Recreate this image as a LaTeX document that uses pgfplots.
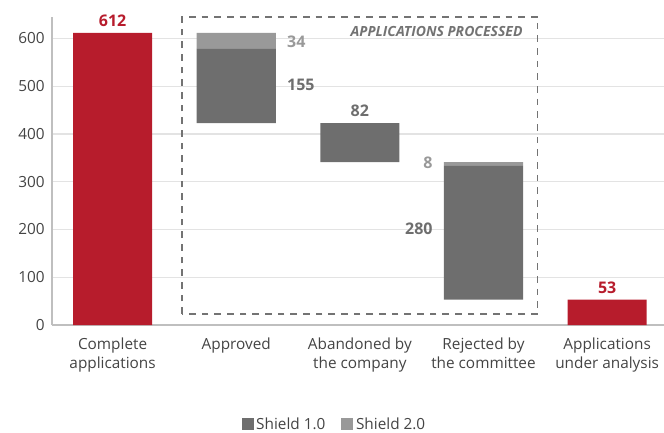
\documentclass[border=0pt]{standalone}
\usepackage{pgfplots}
\pgfplotsset{compat=1.18}
\usepackage{fontspec}
\setmainfont{Open Sans}
\definecolor{shieldred}{HTML}{B71C2C}
\definecolor{darkg}{HTML}{6E6E6E}
\definecolor{lightg}{HTML}{999999}
\definecolor{txt}{HTML}{444444}
\definecolor{gridg}{HTML}{E3E3E3}
\tikzset{vlab/.style={font=\fontsize{12}{14}\selectfont\bfseries}}
\begin{document}
\begin{tikzpicture}
\useasboundingbox (-39pt,-80.25pt) rectangle (459pt,243.75pt);
\begin{axis}[
  at={(0,0)}, anchor=south west,
  width=459pt, height=231pt,
  scale only axis,
  ybar stacked,
  bar width=0.64,
  xmin=-0.49, xmax=4.46,
  ymin=0, ymax=645,
  xtick={0,1,2,3,4},
  xticklabels={Complete\\applications, Approved, Abandoned by\\the company, Rejected by\\the committee, Applications\\under analysis},
  xticklabel style={align=center, text=txt, font=\fontsize{11.5}{14.5}\selectfont, anchor=north, yshift=-6pt},
  ytick={0,100,...,600},
  yticklabel style={text=txt, font=\fontsize{11.5}{14}\selectfont, xshift=-2pt},
  /pgf/number format/assume math mode=true,
  major tick length=0pt,
  ymajorgrids=true,
  grid style={draw=gridg, line width=0.8pt},
  axis x line*=bottom, axis y line*=left,
  axis line style={draw=black!25, line width=0.9pt, -},
  clip=false,
  legend style={at={(0.462,-0.325)}, anchor=center, draw=none, fill=none,
    legend columns=2, font=\fontsize{11.5}{14}\selectfont, text=txt,
    /tikz/every even column/.append style={column sep=10pt}},
  legend image code/.code={\draw[#1, draw=none] (0pt,-4pt) rectangle (9pt,5pt);},
]
% invisible base of the floating bars
\addplot[fill=none, draw=none, forget plot] coordinates {(0,0) (1,423) (2,341) (3,53) (4,0)};
\addplot[fill=shieldred, draw=none, forget plot] coordinates {(0,612) (1,0) (2,0) (3,0) (4,53)};
\addplot[fill=darkg, draw=none] coordinates {(0,0) (1,155) (2,82) (3,280) (4,0)};
\addlegendentry{Shield 1.0}
\addplot[fill=lightg, draw=none] coordinates {(0,0) (1,34) (2,0) (3,8) (4,0)};
\addlegendentry{Shield 2.0}

\draw[black!55, line width=0.9pt, dash pattern=on 5pt off 4.5pt]
  (axis cs:0.562,23) rectangle (axis cs:3.44,645);
\node[anchor=east, text=black!55, font=\fontsize{10.5}{12}\selectfont\bfseries\itshape, xshift=-8pt]
  at (axis cs:3.44,614) {APPLICATIONS PROCESSED};

\node[vlab, anchor=south, text=shieldred, yshift=1pt] at (axis cs:0,612) {612};
\node[vlab, anchor=west, text=lightg, xshift=5pt] at (axis cs:1.32,593) {34};
\node[vlab, anchor=west, text=darkg, xshift=5pt] at (axis cs:1.32,502) {155};
\node[vlab, anchor=south, text=darkg, yshift=1pt] at (axis cs:2,423) {82};
\node[vlab, anchor=east, text=lightg, xshift=-5pt] at (axis cs:2.68,339) {8};
\node[vlab, anchor=east, text=darkg, xshift=-5pt] at (axis cs:2.68,201) {280};
\node[vlab, anchor=south, text=shieldred, yshift=1pt] at (axis cs:4,53) {53};
\end{axis}
\end{tikzpicture}
\end{document}
